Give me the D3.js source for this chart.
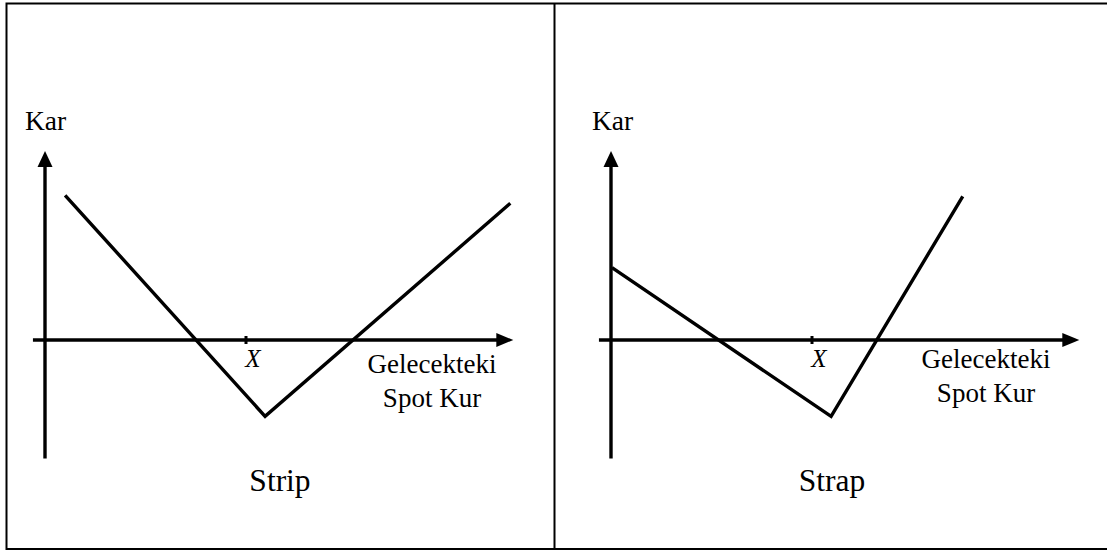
<!DOCTYPE html>
<html lang="tr">
<head>
  <meta charset="UTF-8">
  <title>Strip ve Strap</title>
  <script src="https://d3js.org/d3.v7.min.js"></script>
  <style>
    body, html {
      margin: 0;
      background: #fff;
    }
    svg text {
      font-family: 'Liberation Serif', serif;
      fill: #000;
    }
  </style>
</head>
<body>
<svg id="chart" width="1107" height="551"></svg>

<script>
  // payoff profiles, in "price units" (strike = 10)
  const strike = 10;
  const stripPoints = [[1, 7.2], [10.95, -3.8], [23.15, 6.8]];
  const strapPoints = [[0.05, 3.6], [10.95, -3.8], [17.5, 7.15]];
  const panelTitles = ["Strip", "Strap"];
  const yLabel = "Kar";
  const xLabelLines = ["Gelecekteki", "Spot Kur"];
  const strikeLabel = "X";

  const svg = d3.select("#chart");

  // frame
  svg.append("rect")
    .attr("x", 6.5).attr("y", 3.5)
    .attr("width", 1102).attr("height", 545.5)
    .attr("fill", "none").attr("stroke", "#000").attr("stroke-width", 2);
  svg.append("line")
    .attr("x1", 554.5).attr("x2", 554.5)
    .attr("y1", 3.5).attr("y2", 549)
    .attr("stroke", "#000").attr("stroke-width", 2);

  const unit = 20.1;
  const xMin = -0.6, xMax = 23.3, yMin = -5.9, yMax = 9.4;

  const panels = [
    { origin: 45, points: stripPoints, title: panelTitles[0], titleX: 280, labelX: 432, labelY: 373, kar: 25 },
    { origin: 611, points: strapPoints, title: panelTitles[1], titleX: 832, labelX: 986, labelY: 368, kar: 592 }
  ];

  const y = d3.scaleLinear().domain([0, 1]).range([340, 340 - unit]);

  panels.forEach(p => {
    const x = d3.scaleLinear().domain([0, 1]).range([p.origin, p.origin + unit]);
    const g = svg.append("g");

    // axes
    g.append("line")
      .attr("x1", x(0)).attr("x2", x(0))
      .attr("y1", y(yMin)).attr("y2", y(yMax) + 14)
      .attr("stroke", "#000").attr("stroke-width", 3.4);
    g.append("path")
      .attr("d", `M${x(0)},${y(yMax)} L${x(0) - 7.5},${y(yMax) + 16} L${x(0) + 7.5},${y(yMax) + 16} Z`)
      .attr("fill", "#000");

    g.append("line")
      .attr("x1", x(xMin)).attr("x2", x(xMax) - 14)
      .attr("y1", y(0)).attr("y2", y(0))
      .attr("stroke", "#000").attr("stroke-width", 3.4);
    g.append("path")
      .attr("d", `M${x(xMax)},${y(0)} L${x(xMax) - 17},${y(0) - 7} L${x(xMax) - 17},${y(0) + 7} Z`)
      .attr("fill", "#000");

    // strike tick
    g.append("line")
      .attr("x1", x(strike)).attr("x2", x(strike))
      .attr("y1", y(0) - 4).attr("y2", y(0) + 4)
      .attr("stroke", "#000").attr("stroke-width", 3);

    g.append("text")
      .attr("x", x(strike) + 7).attr("y", 367)
      .attr("text-anchor", "middle")
      .style("font-size", "25px").style("font-style", "italic")
      .text(strikeLabel);

    // payoff
    const line = d3.line().x(d => x(d[0])).y(d => y(d[1]));
    g.append("path")
      .datum(p.points)
      .attr("d", line)
      .attr("fill", "none")
      .attr("stroke", "#000")
      .attr("stroke-width", 3.4)
      .attr("stroke-linejoin", "miter");

    // labels
    g.append("text")
      .attr("x", p.kar).attr("y", 130)
      .style("font-size", "27.5px")
      .text(yLabel);

    xLabelLines.forEach((t, i) => {
      g.append("text")
        .attr("x", p.labelX).attr("y", p.labelY + i * 34)
        .attr("text-anchor", "middle")
        .style("font-size", "27px")
        .text(t);
    });

    g.append("text")
      .attr("x", p.titleX).attr("y", 491)
      .attr("text-anchor", "middle")
      .style("font-size", "31.5px")
      .text(p.title);
  });
</script>
</body>
</html>
